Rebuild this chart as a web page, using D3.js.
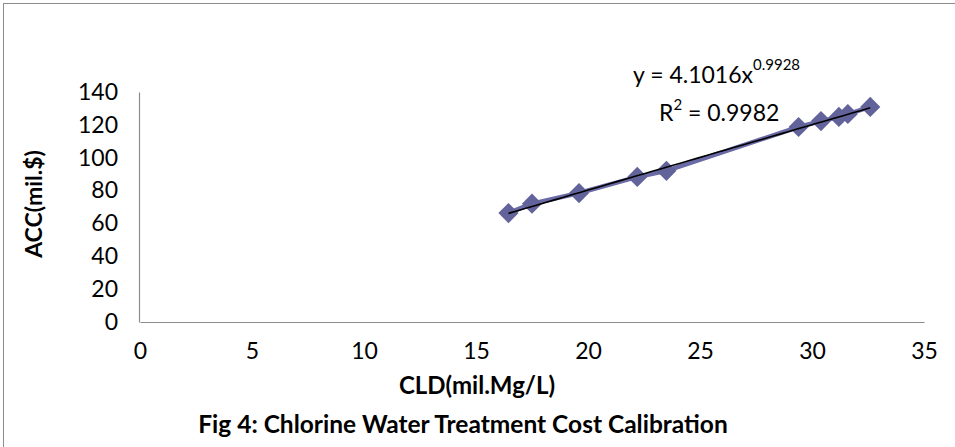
<!DOCTYPE html>
<html>
<head>
<meta charset="utf-8">
<script src="https://cdn.jsdelivr.net/npm/d3@7"></script>
<style>
  body { margin: 0; background: #fff; }
  svg { display: block; font-family: Lato, "Liberation Sans", sans-serif; }
</style>
</head>
<body>
<div class="chart"></div>
<script>
// data
var cld = [16.45, 17.5, 19.6, 22.2, 23.5, 29.4, 30.4, 31.2, 31.6, 32.6];
var acc = [66.3, 72.0, 78.5, 88.3, 92.0, 118.7, 122.3, 124.8, 126.6, 130.9];
var xTicks = [0, 5, 10, 15, 20, 25, 30, 35];
var yTicks = [0, 20, 40, 60, 80, 100, 120, 140];
var fitA = 4.1016, fitB = 0.9928, fitR2 = 0.9982;

var W = 955, H = 447;
var margin = {top: 92, right: 31, bottom: 125, left: 140};

var data = cld.map(function(d, i) { return {x: d, y: acc[i]}; });

var svg = d3.select(".chart").append("svg")
  .attr("width", W)
  .attr("height", H);

// outer frame (runs off the right and bottom edge like the picture)
svg.append("rect")
  .attr("x", 3.5).attr("y", 3.5)
  .attr("width", W + 20).attr("height", H + 20)
  .attr("fill", "none")
  .attr("stroke", "#8c8c8c");

var x = d3.scaleLinear().domain([0, 35]).range([margin.left, W - margin.right]);
var y = d3.scaleLinear().domain([0, 140]).range([H - margin.bottom, margin.top]);

svg.append("g")
  .attr("transform", "translate(0," + y(0) + ")")
  .call(d3.axisBottom(x).tickValues(xTicks).tickSize(0).tickPadding(21));

svg.append("g")
  .attr("transform", "translate(" + (x(0) - 1) + ",0)")
  .call(d3.axisLeft(y).tickValues(yTicks).tickSize(0).tickPadding(21));

svg.selectAll(".domain").attr("stroke", "#8c8c8c").attr("stroke-width", 1.2);
svg.selectAll(".tick text")
  .attr("font-size", 23)
  .attr("font-family", "Lato, sans-serif")
  .attr("fill", "#000");

// series line + diamonds
var line = d3.line().x(function(d) { return x(d.x); }).y(function(d) { return y(d.y); });

svg.append("path")
  .datum(data)
  .attr("d", line)
  .attr("fill", "none")
  .attr("stroke", "#6a6aa6")
  .attr("stroke-width", 4.5)
  .attr("stroke-linejoin", "round");

svg.selectAll(".pt")
  .data(data)
  .enter().append("path")
  .attr("class", "pt")
  .attr("transform", function(d) { return "translate(" + x(d.x) + "," + y(d.y) + ")"; })
  .attr("d", d3.symbol().type(d3.symbolDiamond2).size(260))
  .attr("fill", "#62639b");

// power trendline from the printed equation
var fitX = d3.range(0, 41).map(function(i) {
  return d3.min(cld) + (d3.max(cld) - d3.min(cld)) * i / 40;
});
svg.append("path")
  .datum(fitX.map(function(v) { return {x: v, y: fitA * Math.pow(v, fitB)}; }))
  .attr("d", line)
  .attr("fill", "none")
  .attr("stroke", "#000")
  .attr("stroke-width", 1.6);

// equation labels
var eq = svg.append("text")
  .attr("x", 633).attr("y", 83)
  .attr("font-size", 23);
eq.append("tspan").text("y = " + fitA + "x");
eq.append("tspan").attr("dy", -13).attr("font-size", 15).text(fitB);

var r2 = svg.append("text")
  .attr("x", 659).attr("y", 121)
  .attr("font-size", 23);
r2.append("tspan").text("R");
r2.append("tspan").attr("dy", -11).attr("font-size", 15).text("2");
r2.append("tspan").attr("dy", 11).text(" = " + fitR2);

// axis titles
svg.append("text")
  .attr("x", 477).attr("y", 394)
  .attr("text-anchor", "middle")
  .attr("font-size", 24).attr("font-weight", "bold")
  .text("CLD(mil.Mg/L)");

svg.append("text")
  .attr("transform", "translate(42,204) rotate(-90)")
  .attr("text-anchor", "middle")
  .attr("font-size", 23).attr("font-weight", "bold")
  .text("ACC(mil.$)");

svg.append("text")
  .attr("x", 463).attr("y", 433)
  .attr("text-anchor", "middle")
  .attr("font-size", 24.5).attr("font-weight", "bold")
  .text("Fig 4: Chlorine Water Treatment Cost Calibration");
</script>
</body>
</html>
